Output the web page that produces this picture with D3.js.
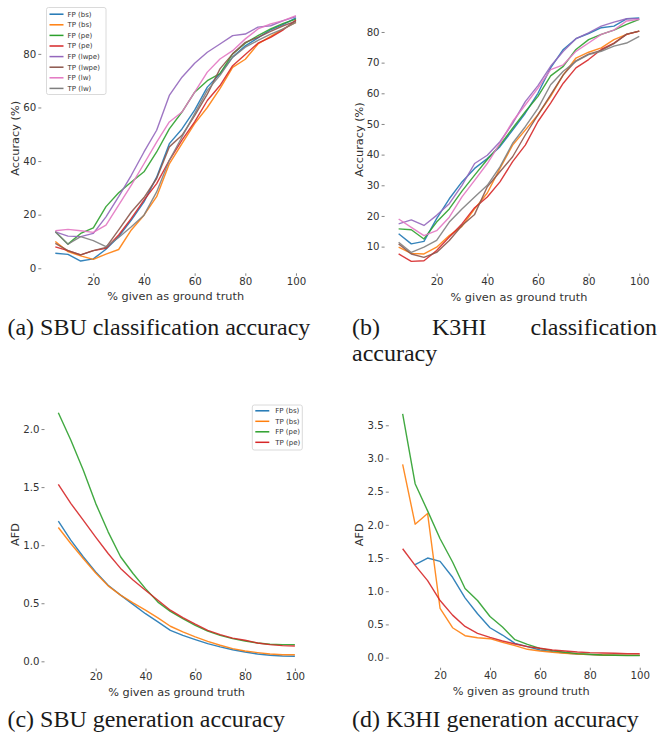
<!DOCTYPE html>
<html><head><meta charset="utf-8">
<script src="https://cdn.jsdelivr.net/npm/d3@7"></script>
<style>body{margin:0;background:#fff}svg{display:block}</style>
</head><body>
<svg id="c" width="658" height="733"></svg>
<script>
// ---------------- DATA ----------------
const xPct = [5,10,15,20,25,30,35,40,45,50,55,60,65,70,75,80,85,90,95,100];
const seriesNames = ["FP (bs)","TP (bs)","FP (pe)","TP (pe)","FP (lwpe)","TP (lwpe)","FP (lw)","TP (lw)"];
const seriesColors = ["#1f77b4","#ff7f0e","#2ca02c","#d62728","#9467bd","#8c564b","#e377c2","#7f7f7f"];

// (a) SBU classification accuracy (%)
const sbuFPbs   = [5.6,5.2,2.7,3.5,7.1,11.8,18,24.8,34,46.5,52,59,67.6,72.6,78.8,83,86,89,91,93.4];
const sbuTPbs   = [10,6.2,4.6,3.3,5.3,7,14.3,19.8,26.7,39,46.5,54,60,67,75,78,83.7,86.5,89.3,91.8];
const sbuFPpe   = [13.6,9,13,15.1,23,28.2,32.2,36,43.4,52,58.3,65.7,70,72.6,80,84,86.8,89.3,91.4,93];
const sbuTPpe   = [8,6.6,5,6.6,7.4,12.4,18.6,25.4,31.6,40.3,47.8,54.6,62.6,68.2,75.6,79.8,84,86.2,89,92.6];
const sbuFPlwpe = [13.6,12,11.8,13,19.2,26.7,34.7,43.4,51.5,64.5,71.3,76.5,80.6,83.7,86.8,87.4,90,90.5,92.4,93.9];
const sbuTPlwpe = [9.3,6.6,5,6.6,7.8,14.3,21,26.4,33.5,45.3,49.6,57,65,74.4,80,84.3,86.2,88.4,90.5,92.2];
const sbuFPlw   = [14,14.5,14,13.4,16.1,23.6,31,39,47.1,54.6,58.3,65.7,73.2,78.1,81.2,85.6,89.3,91.2,92.4,94.3];
const sbuTPlw   = [13.6,9,11.8,10.3,8.1,11.5,15.5,19.8,28.5,40.3,49,57.7,66.4,72,78.8,82.5,85,87.4,89.3,91.8];

// (b) K3HI classification accuracy (%)
const k3FPbs   = [14.2,10.9,11.7,19.1,25.6,31.1,35.5,38.7,42.6,48,53.5,60,68.3,74.3,77.8,79.5,81.4,81.9,84.3,84.6];
const k3TPbs   = [9.8,7.8,7.6,9.8,13.6,16.6,22.3,27.5,35.5,43.1,48,53,59,66,71.5,73.4,74.8,77.5,79.2,80.3];
const k3FPpe   = [15.8,15.5,12.5,18,22.3,28.1,33.3,38.4,43.1,48.6,54,59,65.7,68.8,74.3,77.5,79.2,80.6,82.5,84.1];
const k3TPpe   = [7.6,5.2,5.4,8.7,13.1,17.4,22.7,26.2,31.1,37.7,43.1,50.8,56.8,63.3,68.3,71,74.3,76.4,79.2,80.3];
const k3FPlwpe = [17.4,18.7,16.9,20.2,24,30,37.1,39.8,44.2,50.2,57.3,62.5,68.8,73.7,77.8,79.7,81.9,83.2,84.3,84.3];
const k3TPlwpe = [10.9,7.6,6.5,8.1,12,16.9,20.5,29.5,34.4,39.3,46.4,53,59.5,66,70.6,72.8,74,76.2,79.3,80.3];
const k3FPlw   = [19,16.3,13.6,15.2,19.6,26.2,31.6,37.1,43.7,50.8,56.2,61.7,67.7,69.3,73.7,76.4,79.2,80.6,83.6,84.1];
const k3TPlw   = [11.4,8.1,9.8,12,18,22.3,26.2,30,36,43.7,49.1,55.1,62.8,67.2,70.4,72.6,73.7,75.4,76.4,78.6];

// (c) SBU generation accuracy (AFD)
const sbuGenFPbs = [1.207,1.043,0.9,0.77,0.655,0.57,0.49,0.41,0.34,0.267,0.224,0.187,0.152,0.124,0.1,0.08,0.063,0.052,0.046,0.043];
const sbuGenTPbs = [1.152,1.014,0.885,0.761,0.65,0.57,0.503,0.44,0.374,0.302,0.253,0.21,0.172,0.138,0.109,0.089,0.075,0.063,0.057,0.057];
const sbuGenFPpe = [2.14,1.905,1.647,1.36,1.115,0.9,0.756,0.626,0.51,0.43,0.368,0.31,0.26,0.224,0.195,0.175,0.158,0.147,0.144,0.144];
const sbuGenTPpe = [1.523,1.36,1.215,1.07,0.928,0.8,0.7,0.612,0.526,0.44,0.376,0.32,0.267,0.23,0.2,0.181,0.158,0.144,0.135,0.132];

// (d) K3HI generation accuracy (AFD)
const k3GenFPbs = [null,1.40,1.50,1.45,1.21,0.9,0.66,0.45,0.34,0.215,0.165,0.115,0.09,0.07,0.055,0.045,0.04,0.035,0.035,0.035];
const k3GenTPbs = [2.91,2.01,2.17,0.74,0.45,0.33,0.3,0.285,0.23,0.18,0.125,0.1,0.08,0.065,0.055,0.045,0.04,0.035,0.035,0.035];
const k3GenFPpe = [3.67,2.62,2.21,1.79,1.44,1.04,0.86,0.62,0.46,0.27,0.2,0.14,0.105,0.08,0.06,0.05,0.04,0.035,0.03,0.03];
const k3GenTPpe = [1.64,1.39,1.16,0.86,0.64,0.47,0.365,0.305,0.25,0.205,0.165,0.14,0.115,0.1,0.085,0.075,0.07,0.065,0.06,0.06];

const xTicks = [20,40,60,80,100];
const yTicksA = [0,20,40,60,80];
const yTicksB = [10,20,30,40,50,60,70,80];
const yTicksC = [0,0.5,1.0,1.5,2.0];
const yTicksD = [0,0.5,1.0,1.5,2.0,2.5,3.0,3.5];
const xLabel = "% given as ground truth";
const captions = ["(a) SBU classification accuracy","(c) SBU generation accuracy","(d) K3HI generation accuracy"];
const captionB = ["(b)","K3HI","classification","accuracy"];

// ---------------- DRAW ----------------
const svg = d3.select("#c");
const TXT = "#333";
const FONT = "'DejaVu Sans', sans-serif";

function panel(cfg){
  const {box, series, yTicks, yFmt, yLabel, yLabelX, legend} = cfg;
  const all = series.flatMap(s => s.values).filter(v => v != null);
  const [mn, mx] = d3.extent(all);
  const pad = (mx - mn) * 0.05;
  const x = d3.scaleLinear().domain([5 - 95*0.05, 100 + 95*0.05]).range([box.l, box.r]);
  const y = d3.scaleLinear().domain([mn - pad, mx + pad]).range([box.b, box.t]);
  const g = svg.append("g");

  const ya = g.append("g").attr("transform", `translate(${box.l},0)`)
    .call(d3.axisLeft(y).tickValues(yTicks).tickFormat(yFmt).tickSize(3).tickPadding(4));
  ya.select(".domain").remove();
  ya.selectAll("line").attr("stroke", "#666").attr("stroke-width", 0.8).attr("transform","translate(-2,0)");
  ya.selectAll("text").attr("fill", TXT).style("font-family", FONT).style("font-size", "10.2px");

  const xa = g.append("g").attr("transform", `translate(0,${box.b})`)
    .call(d3.axisBottom(x).tickValues(xTicks).tickFormat(d3.format("d")).tickSize(2.5).tickPadding(2));
  xa.select(".domain").remove();
  xa.selectAll("line").attr("stroke", "#666").attr("stroke-width", 0.8);
  xa.selectAll("text").attr("fill", TXT).style("font-family", FONT).style("font-size", "10.2px");

  g.append("text").attr("x", (box.l + box.r)/2).attr("y", box.b + 27)
    .attr("text-anchor","middle").attr("fill", TXT)
    .style("font-family", FONT).style("font-size","11.3px").text(xLabel);
  g.append("text").attr("transform", `translate(${yLabelX},${(box.t+box.b)/2}) rotate(-90)`)
    .attr("text-anchor","middle").attr("dy","0.35em").attr("fill", TXT)
    .style("font-family", FONT).style("font-size","11.3px").text(yLabel);

  const line = d3.line().defined(d => d[1] != null).x(d => x(d[0])).y(d => y(d[1]));
  series.forEach(s => {
    g.append("path").datum(xPct.map((xv,i) => [xv, s.values[i]]))
      .attr("d", line).attr("fill","none").attr("stroke", s.color)
      .attr("stroke-width", 1.4).attr("stroke-opacity", 0.9).attr("stroke-linejoin","round");
  });

  if (legend){
    const L = legend;
    const lg = g.append("g");
    lg.append("rect").attr("x", L.x).attr("y", L.y).attr("width", L.w).attr("height", L.h)
      .attr("rx", 2).attr("fill", "#fff").attr("fill-opacity", 0.8)
      .attr("stroke", "#d0d0d0").attr("stroke-width", 0.8);
    series.forEach((s, i) => {
      const cy = L.y + L.first + i * L.step;
      lg.append("line").attr("x1", L.x + L.h1).attr("x2", L.x + L.h2).attr("y1", cy).attr("y2", cy)
        .attr("stroke", s.color).attr("stroke-width", 1.5);
      lg.append("text").attr("x", L.x + L.tx).attr("y", cy).attr("dy","0.35em")
        .attr("fill", TXT).style("font-family", FONT).style("font-size","7px").text(s.name);
    });
  }
}

const mk = arrs => arrs.map((v,i) => ({name: seriesNames[i], color: seriesColors[i], values: v}));

panel({box:{l:43.3,r:308,t:3.3,b:273.3},
  series: mk([sbuFPbs,sbuTPbs,sbuFPpe,sbuTPpe,sbuFPlwpe,sbuTPlwpe,sbuFPlw,sbuTPlw]),
  yTicks: yTicksA, yFmt: d3.format("d"), yLabel: "Accuracy (%)", yLabelX: 15,
  legend: {x:46.5, y:7.5, w:59.5, h:87, first:6.7, step:10.6, h1:3, h2:17, tx:21}});
panel({box:{l:386.6,r:651.3,t:5.7,b:273.5},
  series: mk([k3FPbs,k3TPbs,k3FPpe,k3TPpe,k3FPlwpe,k3TPlwpe,k3FPlw,k3TPlw]),
  yTicks: yTicksB, yFmt: d3.format("d"), yLabel: "Accuracy (%)", yLabelX: 359.3});
panel({box:{l:46.5,r:306.7,t:400.6,b:668.5},
  series: mk([sbuGenFPbs,sbuGenTPbs,sbuGenFPpe,sbuGenTPpe]),
  yTicks: yTicksC, yFmt: d3.format(".1f"), yLabel: "AFD", yLabelX: 15,
  legend: {x:252.3, y:405, w:50, h:45, first:5.8, step:10.5, h1:3, h2:17, tx:23}});
panel({box:{l:390.8,r:651.6,t:401.9,b:667.7},
  series: mk([k3GenFPbs,k3GenTPbs,k3GenFPpe,k3GenTPpe]),
  yTicks: yTicksD, yFmt: d3.format(".1f"), yLabel: "AFD", yLabelX: 359.3});

const CF = "'Liberation Serif', 'DejaVu Serif', serif";
const cap = svg.append("g").attr("fill","#1a1a1a").style("font-family", CF);
const probe = cap.append("text").style("font-size","20px").text(captions[0]);
const fs = 20 * 303 / probe.node().getComputedTextLength();
probe.remove();
const capItems = [
  {t: captions[0], x: 7.5, y: 335, anchor: "start"},
  {t: captions[1], x: 7.5, y: 727, anchor: "start"},
  {t: captions[2], x: 352, y: 727, anchor: "start"},
  {t: captionB[0], x: 352, y: 335, anchor: "start"},
  {t: captionB[1], x: 432, y: 335, anchor: "start"},
  {t: captionB[2], x: 657, y: 335, anchor: "end"},
  {t: captionB[3], x: 352, y: 361, anchor: "start"}
];
capItems.forEach(c => cap.append("text").attr("x", c.x).attr("y", c.y)
  .attr("text-anchor", c.anchor).style("font-size", fs + "px").text(c.t));
</script>
</body></html>
